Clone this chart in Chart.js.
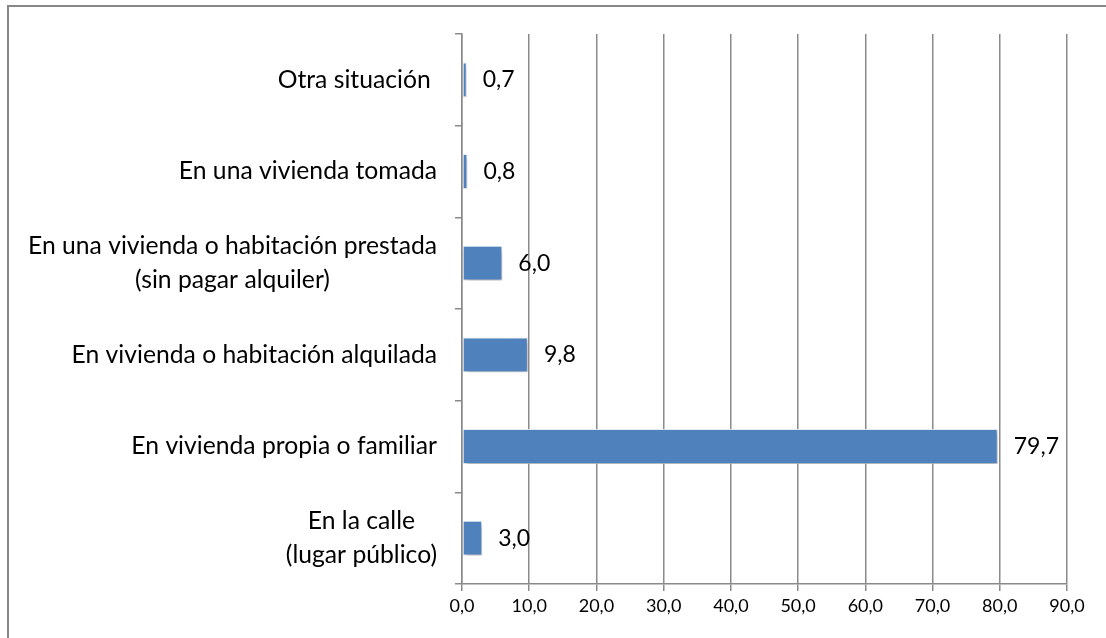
<!DOCTYPE html>
<html>
<head>
<meta charset="utf-8">
<script src="https://cdn.jsdelivr.net/npm/chart.js@4.4.1/dist/chart.umd.min.js"></script>
<style>
  html, body { margin: 0; padding: 0; background: #fff; overflow: hidden; }
  #wrap { position: relative; width: 1106px; height: 638px; overflow: hidden; }
  #frame { position: absolute; left: 7px; top: 5px; width: 1200px; height: 800px; border: 2px solid #888; box-sizing: border-box; }
  canvas { position: absolute; left: 0; top: 0; }
</style>
</head>
<body>
<div id="wrap">
  <div id="frame"></div>
  <canvas id="c" width="1106" height="638"></canvas>
</div>
<script>
const categories = [
  ["Otra situación "],
  ["En una vivienda tomada"],
  ["En una vivienda o habitación prestada", "(sin pagar alquiler)"],
  ["En vivienda o habitación alquilada"],
  ["En vivienda propia o familiar"],
  ["En la calle", "(lugar público)"]
];
const values = [0.7, 0.8, 6.0, 9.8, 79.7, 3.0];
const xTicks = [0, 10, 20, 30, 40, 50, 60, 70, 80, 90];

const FONT = "Lato, 'Open Sans', sans-serif";
const fmt = v => Number(v).toFixed(1).replace('.', ',');

const shadowPlugin = {
  id: 'shadow',
  beforeDatasetsDraw(chart) {
    const ctx = chart.ctx;
    ctx.save();
    ctx.shadowColor = 'rgba(0,0,0,0.3)';
    ctx.shadowBlur = 5;
    ctx.shadowOffsetX = 2;
    ctx.shadowOffsetY = 3;
  },
  afterDatasetsDraw(chart) {
    chart.ctx.restore();
  }
};

const labelPlugin = {
  id: 'labels',
  afterDraw(chart) {
    const ctx = chart.ctx;
    const y = chart.scales.y;
    const area = chart.chartArea;
    ctx.save();
    ctx.font = "24.7px " + FONT;
    ctx.fillStyle = '#000';
    ctx.textBaseline = 'middle';
    ctx.textAlign = 'center';
    const lineH = 34;
    categories.forEach((lines, i) => {
      const cy = y.getPixelForTick(i);
      const maxW = Math.max(...lines.map(l => ctx.measureText(l).width));
      const cx = area.left - 25 - maxW / 2;
      const start = cy - (lines.length - 1) * lineH / 2;
      lines.forEach((l, k) => ctx.fillText(l, cx, start + k * lineH));
    });
    ctx.font = "23px " + FONT;
    ctx.textAlign = 'left';
    const meta = chart.getDatasetMeta(0);
    meta.data.forEach((bar, i) => {
      ctx.fillText(fmt(values[i]), bar.x + 16, bar.y);
    });
    ctx.restore();
  }
};

new Chart(document.getElementById('c'), {
  type: 'bar',
  data: {
    labels: categories,
    datasets: [{
      data: values,
      backgroundColor: '#4F81BD',
      borderColor: 'rgba(230,238,248,0.9)',
      borderWidth: 1,
      borderSkipped: false,
      categoryPercentage: 1,
      barPercentage: 0.38
    }]
  },
  options: {
    indexAxis: 'y',
    responsive: false,
    animation: false,
    events: [],
    layout: { padding: { top: 34, right: 39, left: 0, bottom: 0 } },
    plugins: { legend: { display: false }, tooltip: { enabled: false } },
    scales: {
      x: {
        type: 'linear',
        min: 0, max: 90,
        afterBuildTicks: s => { s.ticks = xTicks.map(v => ({ value: v })); },
        afterFit: s => { s.height = 54; },
        grid: { color: '#8a8a8a', lineWidth: 1.5, tickLength: 7, drawTicks: true },
        border: { color: '#8a8a8a', width: 1.5 },
        ticks: { font: { family: FONT, size: 18 }, color: '#000', padding: 4, callback: v => fmt(v), maxRotation: 0 }
      },
      y: {
        type: 'category',
        offset: true,
        afterFit: s => { s.width = 462; },
        grid: { display: true, drawOnChartArea: false, drawTicks: true, tickLength: 7, color: '#8a8a8a', lineWidth: 1.5, offset: true },
        border: { color: '#8a8a8a', width: 1.5 },
        ticks: { display: false }
      }
    }
  },
  plugins: [shadowPlugin, labelPlugin]
});
</script>
</body>
</html>
